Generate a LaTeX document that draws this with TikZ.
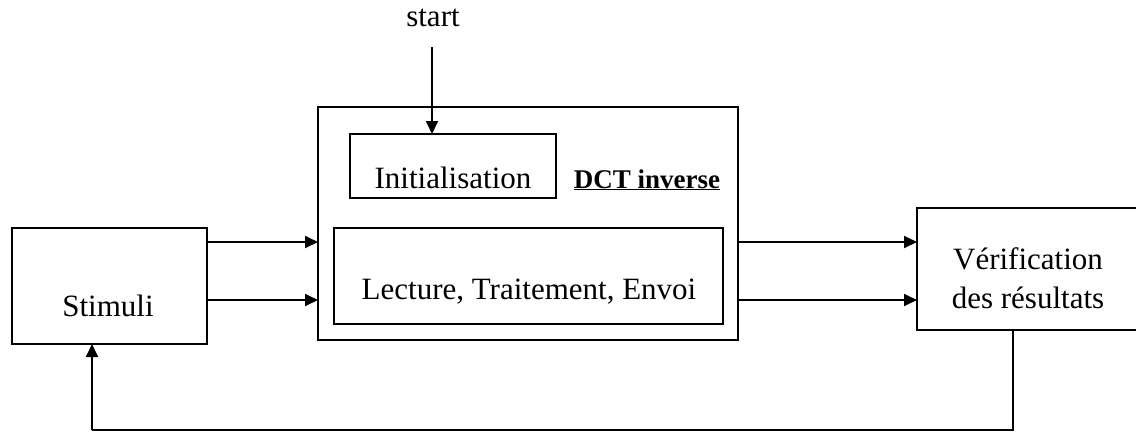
\documentclass[tikz,border=0pt]{standalone}
\usepackage{fontspec}
\setmainfont{Liberation Serif}
\usetikzlibrary{arrows.meta}
\begin{document}
\begin{tikzpicture}[x=1pt,y=-1pt,
  box/.style={draw, line width=1.8pt, inner sep=0pt, outer sep=0pt, anchor=north west},
  txt/.style={inner sep=0pt, anchor=base, font=\fontsize{31}{36}\selectfont},
  arr/.style={line width=1.8pt, -{Triangle[length=13pt,width=12pt]}},
  ln/.style={line width=1.8pt}]
\useasboundingbox (0,0) rectangle (1136,432);
% boxes
\node[box, minimum width=195pt, minimum height=116pt] (stim) at (12,228) {};
\node[box, minimum width=420pt, minimum height=233pt] (dct) at (318,107) {};
\node[box, minimum width=206pt, minimum height=64pt] (init) at (350,134) {};
\node[box, minimum width=389pt, minimum height=96pt] (lect) at (334,228) {};
\node[box, minimum width=222pt, minimum height=122pt] (verif) at (917,208) {};
% texts
\node[txt] (tstart) at (433,26) {start};
\node[txt] (tstim) at (108,316) {Stimuli};
\node[txt] (tinit) at (453,188) {Initialisation};
\node[txt, font=\fontsize{27}{32}\selectfont\bfseries] (tdct) at (647,188) {\underline{DCT inverse}};
\node[txt] (tlect) at (529,299) {Lecture, Traitement, Envoi};
\node[txt] (tver1) at (1028,269) {Vérification};
\node[txt] (tver2) at (1028,308) {des résultats};
% connectors
\coordinate (s0) at (432,47);
\draw[arr] (s0) -- (s0 |- init.north);
\draw[arr] (stim.east |- 0,242) -- (dct.west |- 0,242);
\draw[arr] (stim.east |- 0,300) -- (dct.west |- 0,300);
\draw[arr] (dct.east |- 0,242) -- (verif.west |- 0,242);
\draw[arr] (dct.east |- 0,300) -- (verif.west |- 0,300);
\coordinate (f0) at (1013,430);
\coordinate (f1) at (92,430);
\draw[ln] (f0 |- verif.south) -- (f0) -- (f1);
\draw[arr] (f1) -- (f1 |- stim.south);
\end{tikzpicture}
\end{document}
